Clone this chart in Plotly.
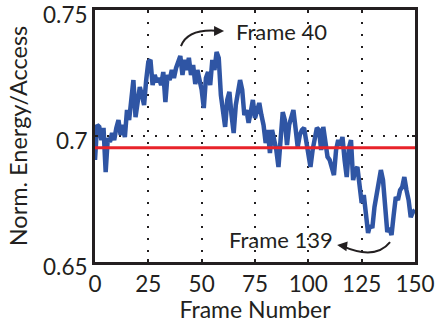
import plotly.graph_objects as go

frames = list(range(0, 151))
energy = [
    0.6905, 0.7044, 0.7036, 0.6984, 0.7032, 0.6857, 0.6992, 0.6976, 0.7012, 0.6984,
    0.7032, 0.7063, 0.7004, 0.7044, 0.6996, 0.7103, 0.7063, 0.7143, 0.7222, 0.7075,
    0.7143, 0.7194, 0.7163, 0.7123, 0.7222, 0.7294, 0.7302, 0.7202, 0.7242, 0.7214,
    0.7230, 0.7202, 0.7254, 0.7135, 0.7242, 0.7222, 0.7262, 0.7230, 0.7270, 0.7294,
    0.7317, 0.7242, 0.7302, 0.7262, 0.7310, 0.7242, 0.7282, 0.7206, 0.7262, 0.7222,
    0.7183, 0.7111, 0.7230, 0.7254, 0.7202, 0.7302, 0.7262, 0.7333, 0.7310, 0.7163,
    0.7103, 0.7036, 0.7143, 0.7175, 0.7083, 0.7012, 0.7123, 0.7163, 0.7222, 0.7183,
    0.7083, 0.7103, 0.7052, 0.7095, 0.7143, 0.7071, 0.7103, 0.7131, 0.7083, 0.7044,
    0.6972, 0.7024, 0.6932, 0.7024, 0.6984, 0.6944, 0.6877, 0.6984, 0.7095, 0.7063,
    0.6964, 0.7044, 0.7083, 0.7103, 0.7032, 0.6956, 0.7004, 0.7024, 0.7032, 0.6984,
    0.6924, 0.6877, 0.6944, 0.6984, 0.7032, 0.7024, 0.6944, 0.7036, 0.6984, 0.6917,
    0.6905, 0.6873, 0.6845, 0.6944, 0.6984, 0.6964, 0.6996, 0.6905, 0.6837, 0.6952,
    0.6984, 0.6825, 0.6865, 0.6877, 0.6805, 0.6734, 0.6766, 0.6686, 0.6615, 0.6647,
    0.6635, 0.6718, 0.6766, 0.6825, 0.6865, 0.6825, 0.6706, 0.6619, 0.6635, 0.6607,
    0.6686, 0.6758, 0.6746, 0.6785, 0.6797, 0.6837, 0.6785, 0.6746, 0.6678, 0.6698,
    0.6706,
]
average = 0.6953
x_ticks = [0, 25, 50, 75, 100, 125, 150]
y_ticks = [0.65, 0.7, 0.75]
y_tick_labels = ["0.65", "0.7", "0.75"]

FONT = "Lato"
INK = "#231f20"

fig = go.Figure()
fig.add_trace(go.Scatter(x=frames, y=energy, mode="lines",
                         line=dict(color="#2f55a4", width=4.5), hoverinfo="skip"))
fig.add_trace(go.Scatter(x=[frames[0], frames[-1]], y=[average, average], mode="lines",
                         line=dict(color="#e8232a", width=3), hoverinfo="skip"))

# curved arrow paths
fig.add_shape(type="path", path="M 40.3,0.7357 Q 43.6,0.7429 58.5,0.7417",
              line=dict(color=INK, width=2))
fig.add_shape(type="path", path="M 138.3,0.6579 Q 131.3,0.6505 115.5,0.6565",
              line=dict(color=INK, width=2))

fig.add_annotation(x=60.5, y=0.7417, ax=-8, ay=0, text="", showarrow=True,
                   arrowhead=2, arrowsize=1, arrowwidth=2, arrowcolor=INK)
fig.add_annotation(x=113.5, y=0.6567, ax=8, ay=1, text="", showarrow=True,
                   arrowhead=2, arrowsize=1, arrowwidth=2, arrowcolor=INK)
fig.add_annotation(x=65, y=0.7414, text="Frame 40", showarrow=False, xanchor="left",
                   font=dict(family=FONT, size=22, color=INK))
fig.add_annotation(x=62, y=0.659, text="Frame 139", showarrow=False, xanchor="left",
                   font=dict(family=FONT, size=22, color=INK))

grid_dash = "2px,10px"
fig.update_xaxes(range=[0, 150], tickvals=x_ticks, ticks="inside", ticklen=3,
                 tickwidth=2, tickcolor=INK, automargin=False, ticklabeloverflow="allow",
                 showline=True, linewidth=3, linecolor=INK, mirror="ticks",
                 showgrid=True, gridcolor=INK, gridwidth=1.5, griddash=grid_dash,
                 zeroline=False,
                 title=dict(text="Frame Number", standoff=4,
                            font=dict(family=FONT, size=23, color=INK)),
                 tickfont=dict(family=FONT, size=22.5, color=INK))
fig.update_yaxes(range=[0.65, 0.75], tickvals=y_ticks, ticktext=y_tick_labels,
                 ticks="inside", ticklen=3, tickwidth=2, tickcolor=INK, automargin=False,
                 ticklabeloverflow="allow", ticklabelshift=5,
                 showline=True, linewidth=3, linecolor=INK, mirror="ticks",
                 showgrid=True, gridcolor=INK, gridwidth=1.5, griddash=grid_dash,
                 zeroline=False,
                 title=dict(text="Norm. Energy/Access", standoff=9,
                            font=dict(family=FONT, size=23.5, color=INK)),
                 tickfont=dict(family=FONT, size=22.5, color=INK))

fig.update_layout(width=446, height=323, showlegend=False,
                  margin=dict(l=95, r=31, t=10, b=61),
                  plot_bgcolor="white", paper_bgcolor="white")

fig.write_html("out.html", config={"displayModeBar": False},
               post_script="document.body.style.margin='0';document.body.style.overflow='hidden';")
